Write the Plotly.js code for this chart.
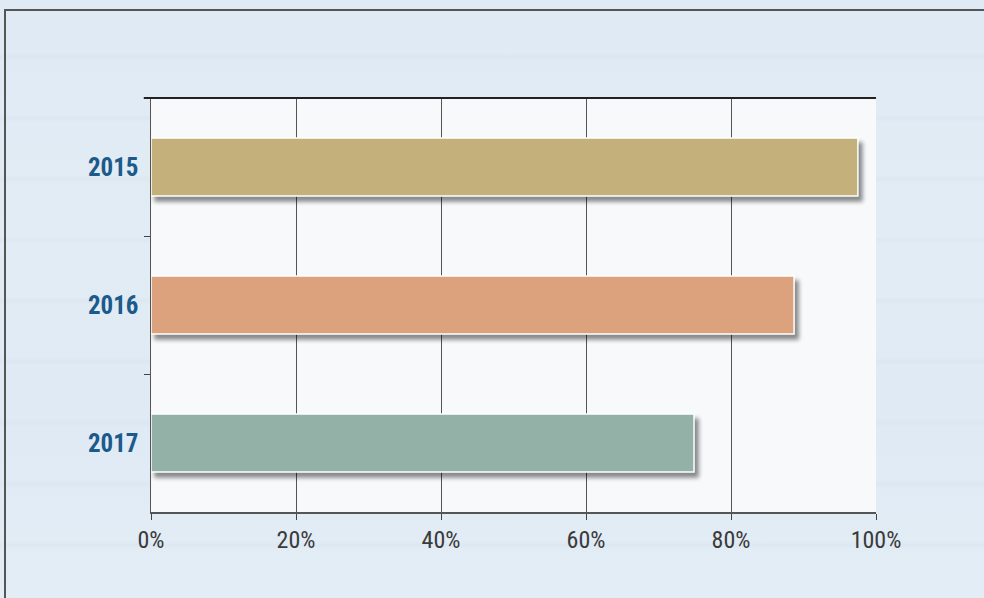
<!DOCTYPE html>
<html>
<head>
<meta charset="utf-8">
<script src="https://cdn.plot.ly/plotly-3.0.1.min.js"></script>
<style>
  html, body { margin: 0; padding: 0; overflow: hidden; }
  body { width: 984px; height: 598px; position: relative;
    background-color: #e0ebf5;
    background-image:
      linear-gradient(#555, #555),
      linear-gradient(#555, #555),
      repeating-linear-gradient(180deg, rgba(255,255,255,0) 0px, rgba(255,255,255,0) 53px, rgba(200,212,224,0.18) 57px, rgba(255,255,255,0) 61px),
      linear-gradient(180deg, #dfeaf4 0%, #e2ecf5 40%, #dfeaf4 70%, #e3edf6 100%);
    background-repeat: no-repeat, no-repeat, no-repeat, no-repeat;
    background-size: 980px 2px, 2px 589px, 984px 598px, 984px 598px;
    background-position: 4px 9px, 4px 9px, 0 0, 0 0; }
  #chart { position: absolute; left: 0; top: 0; width: 984px; height: 598px; }
  .trace.bars .point path { filter: drop-shadow(4px 5px 2px rgba(0,0,0,0.45)); }
</style>
</head>
<body>
<div id="chart"></div>
<script>
const years = ['2015', '2016', '2017'];
const shares = [0.975, 0.887, 0.749];
const barColors = ['#c3b07b', '#dca27d', '#93b1a6'];
const xTickVals = [0, 0.2, 0.4, 0.6, 0.8, 1.0];
const xTickText = ['0%', '20%', '40%', '60%', '80%', '100%'];

const trace = {
  type: 'bar',
  orientation: 'h',
  y: years,
  x: shares,
  width: 0.42,
  marker: { color: barColors, line: { color: '#ffffff', width: 1.5 } },
  hoverinfo: 'skip'
};

const layout = {
  width: 984, height: 598,
  margin: { l: 151, r: 108, t: 98, b: 86 },
  paper_bgcolor: 'rgba(0,0,0,0)',
  plot_bgcolor: '#f7f9fb',
  showlegend: false,
  xaxis: {
    range: [0, 1],
    tickvals: xTickVals, ticktext: xTickText,
    showgrid: true, gridcolor: '#555', gridwidth: 1,
    zeroline: false,
    showline: true, linecolor: '#555', linewidth: 1.5,
    ticks: 'outside', ticklen: 6, tickcolor: '#444', tickwidth: 1,
    tickfont: { family: '"Liberation Sans Narrow", "Roboto Condensed", Roboto, sans-serif', size: 24, color: '#3a3a3a' },
    fixedrange: true
  },
  yaxis: {
    type: 'category',
    categoryorder: 'array', categoryarray: years,
    autorange: 'reversed',
    showgrid: false, zeroline: false,
    showline: true, linecolor: '#555', linewidth: 1.5,
    ticks: 'outside', tickson: 'boundaries', ticklen: 6, tickcolor: '#444', tickwidth: 1,
    ticklabelstandoff: 6,
    tickfont: { family: '"Liberation Sans Narrow", "Roboto Condensed", Roboto, sans-serif', size: 25, color: '#1b5a8a', weight: 'bold' },
    fixedrange: true
  },
  shapes: [
    { type: 'line', xref: 'paper', yref: 'paper', x0: -0.01, x1: 1, y0: 1, y1: 1,
      line: { color: '#222', width: 2 } }
  ]
};

Plotly.newPlot('chart', [trace], layout, { displayModeBar: false, staticPlot: true });
</script>
</body>
</html>
